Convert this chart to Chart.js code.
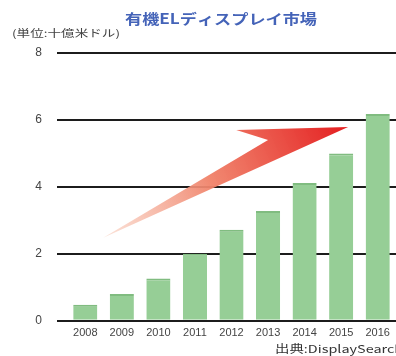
<!DOCTYPE html>
<html>
<head>
<meta charset="utf-8">
<script src="https://cdn.jsdelivr.net/npm/chart.js@4/dist/chart.umd.min.js"></script>
<style>
  html, body { margin: 0; padding: 0; background: #ffffff; }
  #wrap { width: 396px; height: 356px; position: relative; }
</style>
</head>
<body>
<div id="wrap"><canvas id="chart"></canvas></div>
<script>
// OLED display market, billions of US dollars
const years = ['2008', '2009', '2010', '2011', '2012', '2013', '2014', '2015', '2016'];
const marketSize = [0.48, 0.8, 1.26, 2.0, 2.72, 3.28, 4.12, 5.0, 6.18];
const yTickValues = [0, 2, 4, 6, 8];

const titleText = '有機ELディスプレイ市場';
const unitText = '(単位:十億米ドル)';
const sourceText = '出典:DisplaySearch';

// Growth arrow outline, as (category index, value) pairs:
// tail, inner notch, head corner, tip
const arrowIndex = [0.49, 5.0, 4.13, 7.19];
const arrowValue = [2.48, 5.40, 5.70, 5.79];

// Draws text squeezed or stretched horizontally to a given width
function drawFitted(ctx, text, x, y, font, color, width, align) {
  ctx.save();
  ctx.font = font;
  ctx.fillStyle = color;
  ctx.textBaseline = 'middle';
  ctx.textAlign = 'left';
  const w = ctx.measureText(text).width;
  const sx = width / w;
  const left = align === 'center' ? x - width / 2 : x;
  ctx.translate(left, y);
  ctx.scale(sx, 1);
  ctx.fillText(text, 0, 0);
  ctx.restore();
}

const notesPlugin = {
  id: 'notes',
  afterDraw(chart) {
    const ctx = chart.ctx;
    drawFitted(ctx, titleText, 221, 19, 'bold 14px "Noto Sans CJK JP"', '#4463b8', 192, 'center');
    drawFitted(ctx, unitText, 12, 33, '10px "Noto Sans CJK JP"', '#444444', 108, 'left');
    drawFitted(ctx, sourceText, 275, 349, '11px "Noto Sans CJK JP"', '#333333', 128, 'left');
  }
};

const arrowPlugin = {
  id: 'trendArrow',
  afterDatasetsDraw(chart) {
    const { ctx, scales } = chart;
    const pts = arrowIndex.map((v, i) => [scales.x.getPixelForValue(v), scales.y.getPixelForValue(arrowValue[i])]);
    const tail = pts[0], tip = pts[3];
    const grad = ctx.createLinearGradient(tail[0], tail[1], tip[0], tip[1]);
    grad.addColorStop(0, 'rgba(250, 215, 200, 0.7)');
    grad.addColorStop(0.45, 'rgba(240, 130, 105, 0.95)');
    grad.addColorStop(1, 'rgba(228, 30, 32, 1)');
    ctx.save();
    ctx.beginPath();
    ctx.moveTo(pts[0][0], pts[0][1]);
    for (let i = 1; i < pts.length; i++) ctx.lineTo(pts[i][0], pts[i][1]);
    ctx.closePath();
    ctx.fillStyle = grad;
    ctx.fill();
    ctx.restore();
  }
};

new Chart(document.getElementById('chart'), {
  type: 'bar',
  data: {
    labels: years,
    datasets: [{
      data: marketSize,
      backgroundColor: '#96ce96',
      borderColor: '#80bc80',
      borderWidth: { top: 2, left: 0, right: 0, bottom: 0 },
      categoryPercentage: 1,
      barPercentage: 0.66
    }]
  },
  options: {
    responsive: true,
    maintainAspectRatio: false,
    animation: false,
    layout: { padding: { top: 53, left: 0, right: 0, bottom: 10 } },
    plugins: {
      legend: { display: false },
      tooltip: { enabled: false },
      title: { display: false }
    },
    scales: {
      x: {
        grid: { display: false, drawTicks: false },
        border: { display: false },
        ticks: {
          color: '#444444',
          font: { size: 11, family: '"Liberation Sans", Arial, sans-serif' },
          padding: 6,
          maxRotation: 0,
          autoSkip: false
        }
      },
      y: {
        min: 0,
        max: 8,
        afterBuildTicks(scale) {
          scale.ticks = yTickValues.map(v => ({ value: v }));
        },
        afterFit(scale) { scale.width = 67; },
        grid: { color: '#1c1c1c', lineWidth: 2, tickLength: 10, drawTicks: true },
        border: { display: false },
        ticks: {
          color: '#444444',
          font: { size: 12, family: '"Liberation Sans", Arial, sans-serif' },
          padding: 15
        }
      }
    }
  },
  plugins: [arrowPlugin, notesPlugin]
});
</script>
</body>
</html>
